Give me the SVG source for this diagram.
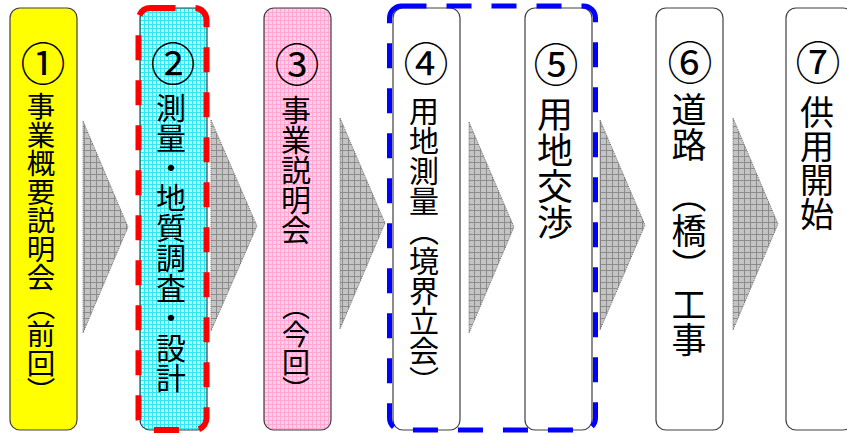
<svg xmlns="http://www.w3.org/2000/svg" width="847" height="434" viewBox="0 0 847 434">
<defs>
<pattern id="gCyan" width="4" height="4" patternUnits="userSpaceOnUse">
<rect width="4" height="4" fill="#B8FFFF"/>
<path d="M0 0.5H4M0.5 0V4" stroke="#33E6F0" stroke-width="1"/>
</pattern>
<pattern id="gPink" width="4" height="4" patternUnits="userSpaceOnUse">
<rect width="4" height="4" fill="#FFD0E8"/>
<path d="M0 0.5H4M0.5 0V4" stroke="#FFA6D2" stroke-width="1"/>
</pattern>
<pattern id="gGray" width="6" height="6" patternUnits="userSpaceOnUse">
<rect width="6" height="6" fill="#C4C4C4"/>
<path d="M0 0.5H6M0.5 0V6" stroke="#8C8C8C" stroke-width="1"/>
</pattern>
</defs>
<style>
.box{stroke:#404040;stroke-width:1.2}
.arrow{fill:url(#gGray);stroke:#555;stroke-width:0.8;stroke-dasharray:1 1}
.num{font-family:"Noto Sans CJK JP","Noto Sans CJK SC",sans-serif;font-size:45px;text-anchor:middle;dominant-baseline:central;fill:#000}
.v{font-family:"Noto Sans CJK JP","Noto Sans CJK SC",sans-serif;writing-mode:vertical-rl;fill:#000}
</style>
<g id="connectors">
<polygon class="arrow" points="83,121 128,227 83,333"/>
<polygon class="arrow" points="211,120 257,226 211,331"/>
<polygon class="arrow" points="340,118 385,223 340,329"/>
<polygon class="arrow" points="469,122 514,227 469,333"/>
<polygon class="arrow" points="600,120 645,225 600,330"/>
<polygon class="arrow" points="733,118 778,224 733,330"/>
</g>
<g id="node1">
<rect class="box" x="10" y="8" width="67" height="422" rx="10" fill="#FFFF00"/>
<text class="num" x="43" y="61">①</text>
<text class="v" x="41" y="92" font-size="28.5">事業概要説明会（前回）</text>
</g>
<g id="node2">
<rect class="box" x="140" y="8" width="67" height="422" rx="10" fill="url(#gCyan)"/>
<text class="num" x="173" y="61">②</text>
<text class="v" x="171" y="93" font-size="30">測量・地質調査・設計</text>
</g>
<g id="node3">
<rect class="box" x="264" y="8" width="67" height="422" rx="10" fill="url(#gPink)"/>
<text class="num" x="297" y="62">③</text>
<text class="v" x="296" font-size="30"><tspan y="95">事業説明会</tspan><tspan y="292" font-size="28">（今回）</tspan></text>
</g>
<g id="node4">
<rect class="box" x="393" y="8" width="67" height="422" rx="10" fill="#FFFFFF"/>
<text class="num" x="426" y="61">④</text>
<text class="v" x="424" y="96" font-size="30">用地測量（境界立会）</text>
</g>
<g id="node5">
<rect class="box" x="525" y="8" width="67" height="422" rx="10" fill="#FFFFFF"/>
<text class="num" x="556" y="62">⑤</text>
<text class="v" x="555" y="96" font-size="36">用地交渉</text>
</g>
<g id="node6">
<rect class="box" x="656" y="8" width="67" height="422" rx="10" fill="#FFFFFF"/>
<text class="num" x="690" y="60">⑥</text>
<text class="v" x="689" font-size="35"><tspan y="92">道路</tspan><tspan y="178">（橋）</tspan><tspan y="287">工事</tspan></text>
</g>
<g id="node7">
<rect class="box" x="786" y="8" width="67" height="422" rx="10" fill="#FFFFFF"/>
<text class="num" x="818" y="60">⑦</text>
<text class="v" x="817" y="95" font-size="34">供用開始</text>
</g>
<g id="highlights" fill="none">
<rect x="138.5" y="8" width="68" height="422" rx="12" stroke="#FF0000" stroke-width="6" stroke-dasharray="25 20"/>
<rect x="389.5" y="6" width="206" height="424" rx="12" stroke="#0000FF" stroke-width="5" stroke-dasharray="25 20"/>
</g>
</svg>
